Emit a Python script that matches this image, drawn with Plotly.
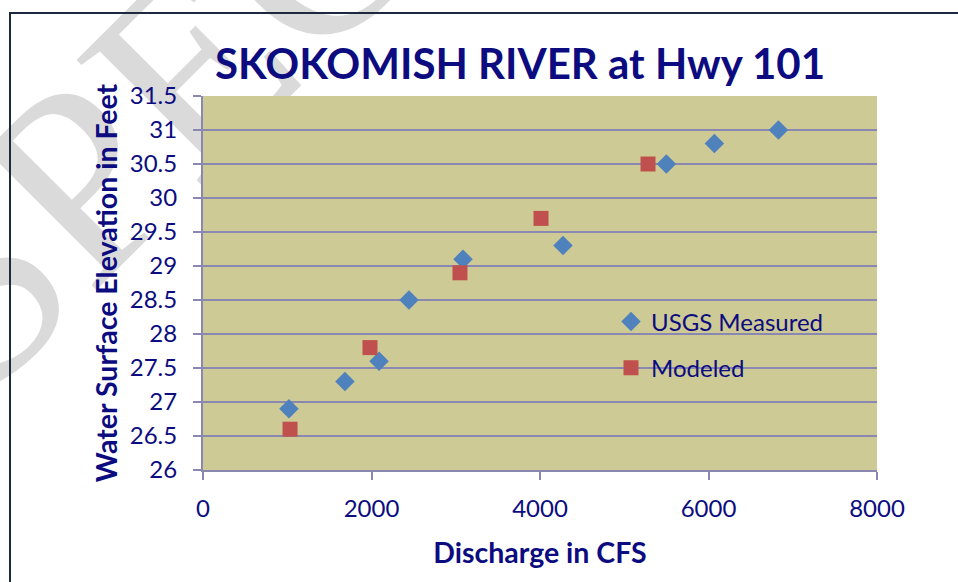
import plotly.graph_objects as go

# Stage vs. discharge, Skokomish River at Hwy 101
usgs_cfs = [1020, 1685, 2090, 2445, 3086, 4273, 5500, 6070, 6830]
usgs_ft = [26.9, 27.3, 27.6, 28.5, 29.1, 29.3, 30.5, 30.8, 31.0]

model_cfs = [1033, 1982, 3050, 4012, 5282]
model_ft = [26.6, 27.8, 28.9, 29.7, 30.5]

x_ticks = [0, 2000, 4000, 6000, 8000]
y_ticks = [26, 26.5, 27, 27.5, 28, 28.5, 29, 29.5, 30, 30.5, 31, 31.5]
x_range = [0, 8000]
y_range = [26, 31.5]

NAVY = "#0c0c80"
GRID = "#8a88b0"
OLIVE = "#cdca95"
W, H = 958, 582
L, R, T, B = 203, 81, 96, 112
PW, PH = W - L - R, H - T - B


def px(xp):
    return (xp - L) / PW


def py(yp):
    return (H - B - yp) / PH


fig = go.Figure()

# Watermark lives on its own hidden subplot (x/y) so the chart subplot,
# drawn afterwards, covers it with the olive plot-area fill.  The text is
# anchored at the foot of a tiny invisible bar and rotated up-right.
fig.add_trace(go.Bar(
    x=[px(391)], y=[0.008], base=[py(444)], width=0.004,
    xaxis="x", yaxis="y",
    text=["SPECIMEN"], textposition="inside", insidetextanchor="start",
    textangle=-45, constraintext="none", cliponaxis=False,
    textfont=dict(family="Liberation Serif", size=270, color="rgba(0,0,0,0.145)"),
    marker=dict(color="rgba(0,0,0,0)", line=dict(width=0)),
    showlegend=False, hoverinfo="skip",
))

fig.add_trace(go.Scatter(
    x=usgs_cfs, y=usgs_ft, mode="markers", name="USGS Measured",
    legendgroup="a", xaxis="x2", yaxis="y2",
    marker=dict(symbol="diamond", size=15, color="#4f81bd", line=dict(width=0)),
))
fig.add_trace(go.Scatter(
    x=model_cfs, y=model_ft, mode="markers", name="Modeled",
    legendgroup="b", xaxis="x2", yaxis="y2",
    marker=dict(symbol="square", size=15, color="#c0504d", line=dict(width=0)),
))

fig.update_layout(
    width=W, height=H,
    margin=dict(l=L, r=R, t=T, b=B),
    paper_bgcolor="white",
    plot_bgcolor="rgba(0,0,0,0)",
    font=dict(family="Lato", color=NAVY),
    title=dict(
        text="<b>SKOKOMISH RIVER at Hwy 101</b>",
        font=dict(size=42, color=NAVY, family="Lato"),
        x=520 / W, xanchor="center", xref="container",
        y=1 - 64 / H, yanchor="middle", yref="container",
    ),
    xaxis=dict(domain=[0, 1], range=[0, 1], visible=False, fixedrange=True),
    yaxis=dict(domain=[0, 1], range=[0, 1], visible=False, fixedrange=True),
    xaxis2=dict(
        domain=[0, 1], anchor="y2",
        range=x_range, tickvals=x_ticks, ticktext=[str(v) for v in x_ticks],
        showgrid=False, zeroline=False,
        showline=True, linecolor=GRID, linewidth=2,
        ticks="outside", ticklen=8, tickcolor=GRID, tickwidth=1.5,
        ticklabelstandoff=8,
        tickfont=dict(size=24, color=NAVY),
        title=dict(text="<b>Discharge in CFS</b>", font=dict(size=28.5, color=NAVY), standoff=22),
    ),
    yaxis2=dict(
        domain=[0, 1], anchor="x2",
        range=y_range, tickvals=y_ticks,
        showgrid=True, gridcolor=GRID, gridwidth=1.5, zeroline=False,
        showline=True, linecolor=GRID, linewidth=2,
        ticks="outside", ticklen=8, tickcolor=GRID, tickwidth=1.5,
        ticklabelstandoff=11,
        tickfont=dict(size=24, color=NAVY),
        title=dict(text="<b>Water Surface Elevation in Feet</b>", font=dict(size=28.5, color=NAVY), standoff=4),
    ),
    legend=dict(
        x=px(611), y=py(299.5), xanchor="left", yanchor="top",
        bgcolor="rgba(0,0,0,0)", font=dict(size=24, color=NAVY),
        tracegroupgap=12,
    ),
    shapes=[
        # olive plot-area fill, drawn in the chart subplot beneath its gridlines
        dict(type="rect", xref="x2", yref="y2", layer="below",
             x0=x_range[0], x1=x_range[1], y0=y_range[0], y1=y_range[1],
             fillcolor=OLIVE, line=dict(width=0)),
        # outer frame
        dict(type="rect", xref="paper", yref="paper", layer="above",
             x0=px(10), y0=py(620), x1=px(1000), y1=py(13),
             line=dict(color="#1b2a3c", width=2), fillcolor="rgba(0,0,0,0)"),
    ],
)

fig.write_html("out.html")
